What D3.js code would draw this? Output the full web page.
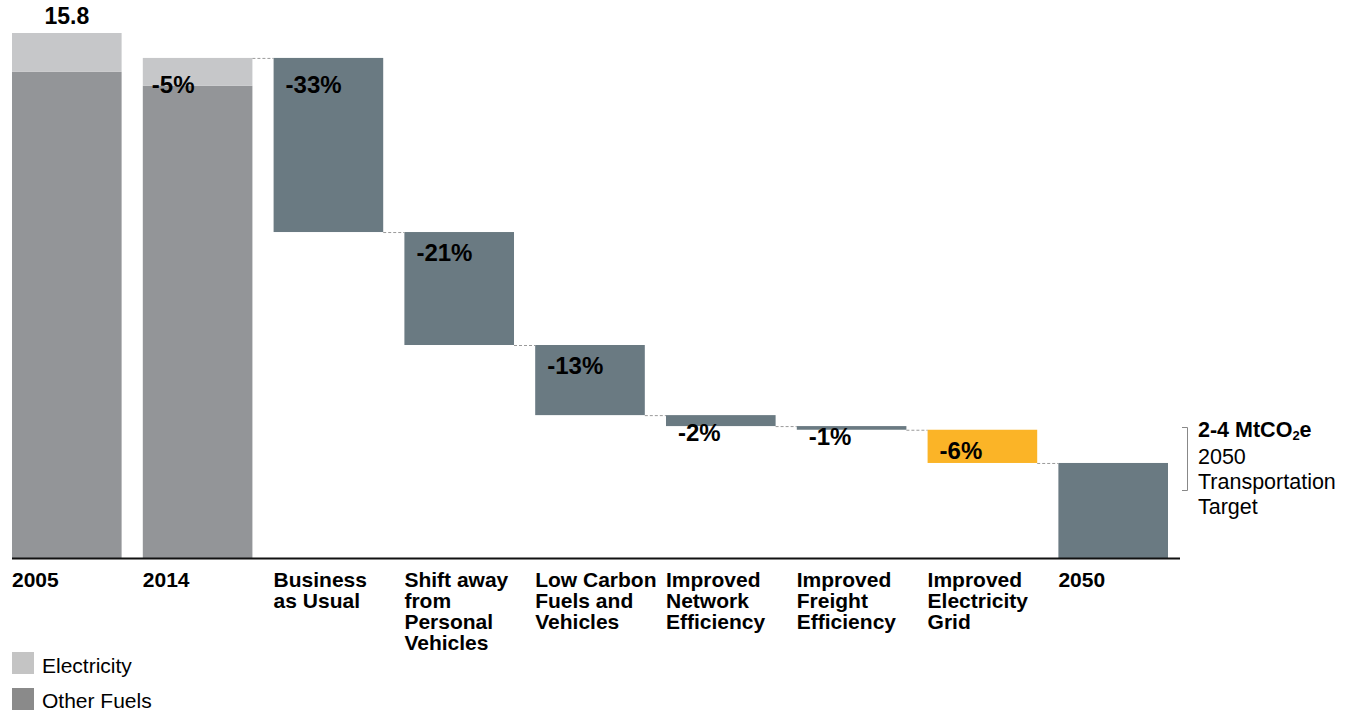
<!DOCTYPE html>
<html><head><meta charset="utf-8">
<script src="https://cdn.jsdelivr.net/npm/d3@7"></script>
<style>
body{margin:0;background:#fff;}
text{font-family:"Liberation Sans",Arial,sans-serif;fill:#000;}
</style></head>
<body><svg id="c" width="1351" height="712"></svg>
<script>
// ---- data ----
const categories = ["2005","2014","Business as Usual","Shift away from Personal Vehicles","Low Carbon Fuels and Vehicles","Improved Network Efficiency","Improved Freight Efficiency","Improved Electricity Grid","2050"];
const categoryLines = [["2005"],["2014"],["Business","as Usual"],["Shift away","from","Personal","Vehicles"],["Low Carbon","Fuels and","Vehicles"],["Improved","Network","Efficiency"],["Improved","Freight","Efficiency"],["Improved","Electricity","Grid"],["2050"]];
const electricity = [1.17, 0.84];          // 2005, 2014
const otherFuels = [14.63, 14.21];          // 2005, 2014
const reductions = [5.24, 3.40, 2.11, 0.33, 0.11, 1.00]; // waterfall steps
const reductionLabels = ["-33%","-21%","-13%","-2%","-1%","-6%"];
const change2014Label = "-5%";
const target2050 = 2.86;
const totalLabel = "15.8";
const targetText = ["2050","Transportation","Target"];

// ---- layout ----
const svg = d3.select("#c");
const baseY = 558, topVal = 15.8, topY = 33;
const y = d3.scaleLinear().domain([0, topVal]).range([baseY, topY]);
const x = d3.scaleBand().domain(categories).range([12, 1168]).paddingInner(0.162).paddingOuter(0);
const bw = x.bandwidth();
const cElec = "#c6c7c9", cOther = "#939598", cStep = "#6a7a82", cGrid = "#fbb427";

// stacked historic bars
[0,1].forEach(i => {
  const c = categories[i];
  svg.append("rect").attr("x", x(c)).attr("width", bw)
    .attr("y", y(otherFuels[i])).attr("height", y(0)-y(otherFuels[i])).attr("fill", cOther);
  svg.append("rect").attr("x", x(c)).attr("width", bw)
    .attr("y", y(otherFuels[i]+electricity[i])).attr("height", y(otherFuels[i])-y(otherFuels[i]+electricity[i])).attr("fill", cElec);
});
const tot2005 = otherFuels[0]+electricity[0];
svg.append("text").attr("x", x(categories[0])+bw/2).attr("y", y(tot2005)-9)
  .attr("text-anchor","middle").attr("font-weight","bold").attr("font-size",23).text(totalLabel);
const tot2014 = otherFuels[1]+electricity[1];
svg.append("text").attr("x", x(categories[1])+9).attr("y", y(tot2014)+35)
  .attr("font-weight","bold").attr("font-size",24).text(change2014Label);

// waterfall
let level = tot2014;
const connectors = [];
connectors.push({v: level, from: categories[1], to: categories[2]});
reductions.forEach((d, i) => {
  const c = categories[i+2];
  const top = level, bot = level - d;
  const yt = y(top), yb = y(bot), h = yb - yt;
  svg.append("rect").attr("x", x(c)).attr("width", bw).attr("y", yt).attr("height", h)
    .attr("fill", i === 5 ? cGrid : cStep);
  let by;
  if (h > 150) by = yt + 35;
  else if (h > 20) by = yt + 29;
  else by = yb + 15;
  svg.append("text").attr("x", x(c)+12).attr("y", by)
    .attr("font-weight","bold").attr("font-size",24).text(reductionLabels[i]);
  level = bot;
  connectors.push({v: level, from: c, to: categories[i+3]});
});
svg.append("rect").attr("x", x(categories[8])).attr("width", bw)
  .attr("y", y(target2050)).attr("height", y(0)-y(target2050)).attr("fill", cStep);

svg.selectAll("line.conn").data(connectors).enter().append("line").attr("class","conn")
  .attr("x1", d => x(d.from)+bw).attr("x2", d => x(d.to))
  .attr("y1", d => y(d.v)+0.5).attr("y2", d => y(d.v)+0.5)
  .attr("stroke","#9a9a9a").attr("stroke-width",1).attr("stroke-dasharray","3,2");

// axis baseline
svg.append("line").attr("x1",12).attr("x2",1180).attr("y1",baseY+0.5).attr("y2",baseY+0.5)
  .attr("stroke","#111").attr("stroke-width",2);

// category labels
categoryLines.forEach((lines, i) => {
  const t = svg.append("text").attr("x", x(categories[i])).attr("y", 587)
    .attr("font-weight","bold").attr("font-size",21);
  lines.forEach((l, j) => t.append("tspan").attr("x", x(categories[i])).attr("dy", j ? 21 : 0).text(l));
});

// target bracket
const bx = 1187;
svg.append("path").attr("d", `M${bx-5},427.5H${bx+0.5}V490.5H${bx-5}`)
  .attr("fill","none").attr("stroke","#888").attr("stroke-width",1);
const tt = svg.append("text").attr("x",1198).attr("y",437).attr("font-size",21.5);
tt.append("tspan").attr("font-weight","bold").text("2-4 MtCO");
tt.append("tspan").attr("font-weight","bold").attr("font-size",13).attr("dy",3).text("2");
tt.append("tspan").attr("font-weight","bold").attr("dy",-3).text("e");
targetText.forEach((l, j) => svg.append("text").attr("x",1198).attr("y",464+j*25).attr("font-size",21.5).text(l));

// legend
const legend = [{n:"Electricity", c:"#c4c4c4"},{n:"Other Fuels", c:"#8a8a8a"}];
legend.forEach((d, i) => {
  svg.append("rect").attr("x",12).attr("y",652+i*36).attr("width",22).attr("height",22).attr("fill",d.c);
  svg.append("text").attr("x",42).attr("y",673+i*35).attr("font-size",21).text(d.n);
});
</script></body></html>
